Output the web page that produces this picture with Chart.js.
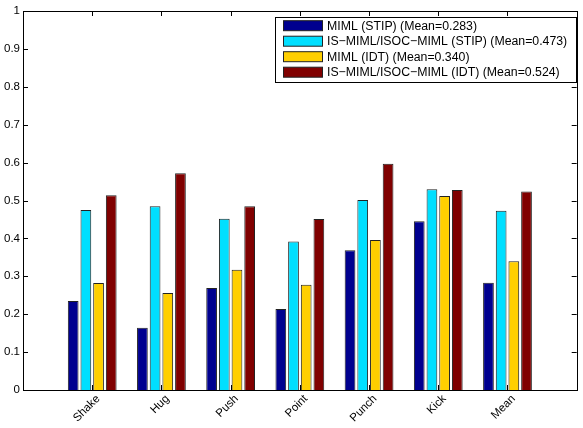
<!DOCTYPE html>
<html>
<head>
<meta charset="utf-8">
<script src="https://cdn.jsdelivr.net/npm/chart.js@4.4.1/dist/chart.umd.min.js"></script>
<style>
  html, body { margin: 0; padding: 0; background: #fff; }
  #wrap { width: 583px; height: 428px; }
</style>
</head>
<body>
<div id="wrap"><canvas id="chart"></canvas></div>
<script>
const categories = ['Shake', 'Hug', 'Push', 'Point', 'Punch', 'Kick', 'Mean'];
const seriesNames = [
  'MIML (STIP) (Mean=0.283)',
  'IS\u2212MIML/ISOC\u2212MIML (STIP) (Mean=0.473)',
  'MIML (IDT) (Mean=0.340)',
  'IS\u2212MIML/ISOC\u2212MIML (IDT) (Mean=0.524)'
];
const mimlStip = [0.235, 0.164, 0.269, 0.214, 0.369, 0.445, 0.283];
const isStip   = [0.475, 0.485, 0.452, 0.392, 0.501, 0.530, 0.473];
const mimlIdt  = [0.282, 0.256, 0.317, 0.278, 0.396, 0.512, 0.340];
const isIdt    = [0.514, 0.572, 0.485, 0.451, 0.597, 0.528, 0.524];
const yTicks = [0, 0.1, 0.2, 0.3, 0.4, 0.5, 0.6, 0.7, 0.8, 0.9, 1];

const colors = ['#00008f', '#00dfff', '#ffcf00', '#800000'];

// matlab-style xlim [0, 8]: empty slot at both ends
const pad = arr => [null, ...arr, null];
const labels = ['', ...categories, ''];

const FONT = '"Liberation Sans", Arial, Helvetica, sans-serif';

// frame, inward ticks and the boxed legend
const matlabAxes = {
  id: 'matlabAxes',
  afterDraw(chart) {
    const { ctx, chartArea: a, scales } = chart;
    const tl = 5;
    ctx.save();
    ctx.strokeStyle = '#000';
    ctx.lineWidth = 1;
    ctx.beginPath();
    yTicks.forEach(v => {
      const y = Math.round(scales.y.getPixelForValue(v)) + 0.5;
      ctx.moveTo(a.left, y); ctx.lineTo(a.left + tl, y);
      ctx.moveTo(a.right, y); ctx.lineTo(a.right - tl, y);
    });
    categories.forEach((c, i) => {
      const x = Math.round(scales.x.getPixelForValue(i + 1)) + 0.5;
      ctx.moveTo(x, a.bottom); ctx.lineTo(x, a.bottom - tl);
      ctx.moveTo(x, a.top); ctx.lineTo(x, a.top + tl);
    });
    ctx.stroke();
    ctx.strokeRect(Math.round(a.left) + 0.5, Math.round(a.top) + 0.5,
                   Math.round(a.right - a.left), Math.round(a.bottom - a.top));

    // legend
    const lx = 275, ly = 17, lw = 301, lh = 65;
    ctx.fillStyle = '#fff';
    ctx.fillRect(lx, ly, lw, lh);
    ctx.strokeRect(lx + 0.5, ly + 0.5, lw, lh);
    ctx.font = '12.3px ' + FONT;
    ctx.textBaseline = 'middle';
    chart.data.datasets.forEach((ds, i) => {
      const cy = 25.7 + i * 15.5;
      ctx.fillStyle = ds.backgroundColor;
      ctx.fillRect(283.5, cy - 5, 39, 10);
      ctx.strokeStyle = '#222';
      ctx.strokeRect(283.5, cy - 5, 39, 10);
      ctx.fillStyle = '#000';
      ctx.fillText(ds.label, 327, cy + 0.5);
    });
    ctx.restore();
  }
};

new Chart(document.getElementById('chart'), {
  type: 'bar',
  data: {
    labels: labels,
    datasets: [mimlStip, isStip, mimlIdt, isIdt].map((d, i) => ({
      label: seriesNames[i],
      data: pad(d),
      backgroundColor: colors[i],
      borderColor: '#222',
      borderWidth: 1,
      categoryPercentage: 0.733,
      barPercentage: 0.845
    }))
  },
  options: {
    responsive: true,
    maintainAspectRatio: false,
    animation: false,
    layout: { padding: { top: 11, right: 0, left: 0, bottom: 0 } },
    plugins: {
      legend: { display: false },
      tooltip: { enabled: false }
    },
    scales: {
      x: {
        offset: false,
        grid: { display: false, drawTicks: false, tickLength: 0 },
        border: { display: false },
        ticks: {
          autoSkip: false,
          minRotation: 45,
          maxRotation: 45,
          padding: 2,
          labelOffset: 6,
          color: '#000',
          font: { family: FONT, size: 11.5 }
        },
        afterFit: s => { s.height = 38; s.paddingLeft = 0; s.paddingRight = 6.3; }
      },
      y: {
        min: 0,
        max: 1,
        grid: { display: false, drawTicks: false, tickLength: 0 },
        border: { display: false },
        afterBuildTicks: s => { s.ticks = yTicks.map(v => ({ value: v })); },
        ticks: {
          padding: 3,
          color: '#000',
          font: { family: FONT, size: 11.5 },
          callback: v => String(Math.round(v * 10) / 10)
        },
        afterFit: s => { s.width = 23; }
      }
    }
  },
  plugins: [matlabAxes]
});
</script>
</body>
</html>
